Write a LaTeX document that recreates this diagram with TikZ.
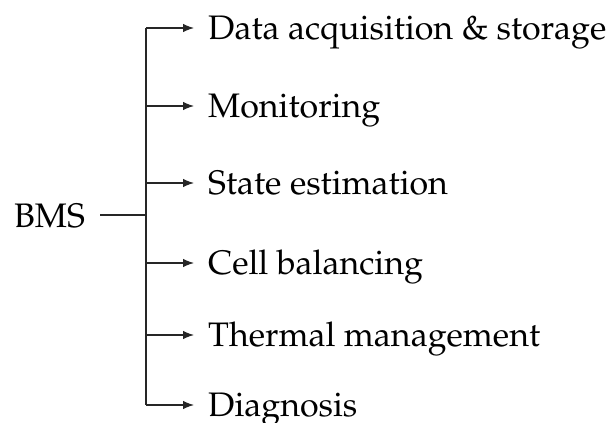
\documentclass[tikz,border=0pt]{standalone}
\usepackage[T1]{fontenc}
\usepackage{mathpazo}
\usetikzlibrary{arrows.meta}
\begin{document}
\begin{tikzpicture}[x=1pt,y=-1pt,
  lbl/.style={anchor=base west,inner sep=0pt,font=\fontsize{34}{40}\selectfont},
  conn/.style={line width=1.1pt,black!85},
  arr/.style={conn,-{Latex[length=11pt,width=8.5pt]}}]
\useasboundingbox (0,0) rectangle (614,423);
\node[lbl] (bms) at (14,227) {BMS};
\coordinate (bmsr) at (100,215);
\coordinate (j) at (146,215);
\coordinate (top) at (146,28);
\coordinate (bot) at (146,405);
\node[lbl] (t1) at (208,39) {Data acquisition \& storage};
\node[lbl] (t2) at (208,117) {Monitoring};
\node[lbl] (t3) at (208,194) {State estimation};
\node[lbl] (t4) at (208,274) {Cell balancing};
\node[lbl] (t5) at (208,346) {Thermal management};
\node[lbl] (t6) at (208,416) {Diagnosis};
\draw[conn] (bmsr) -- (j);
\draw[conn] (top) -- (bot);
\draw[arr] (top) -- (194,28);
\draw[arr] (146,106) -- (194,106);
\draw[arr] (146,183) -- (194,183);
\draw[arr] (146,263) -- (194,263);
\draw[arr] (146,335) -- (194,335);
\draw[arr] (bot) -- (194,405);
\end{tikzpicture}
\end{document}
